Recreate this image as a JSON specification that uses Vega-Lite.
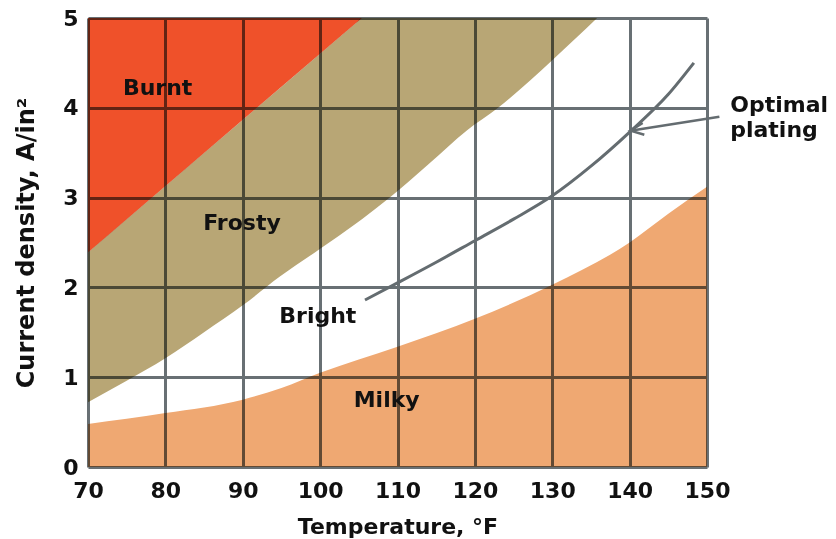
{
  "$schema": "https://vega.github.io/schema/vega-lite/v6.json",
  "width": 619,
  "height": 449,
  "autosize": {"type": "none"},
  "padding": {"left": 88, "top": 18, "right": 129, "bottom": 72},
  "background": "white",
  "datasets": {
    "burnt": [
      {"temp": 70, "density": 2.39},
      {"temp": 105.4, "density": 5}
    ],
    "frosty": [
      {"temp": 70, "lower": 0.72, "upper": 2.39},
      {"temp": 75, "lower": 0.96, "upper": 2.759},
      {"temp": 80, "lower": 1.21, "upper": 3.127},
      {"temp": 85, "lower": 1.5, "upper": 3.496},
      {"temp": 90, "lower": 1.8, "upper": 3.865},
      {"temp": 94.8, "lower": 2.12, "upper": 4.218},
      {"temp": 100, "lower": 2.43, "upper": 4.602},
      {"temp": 104.6, "lower": 2.71, "upper": 4.941},
      {"temp": 105.4, "lower": 2.76, "upper": 5},
      {"temp": 109, "lower": 3.0, "upper": 5},
      {"temp": 114, "lower": 3.37, "upper": 5},
      {"temp": 119, "lower": 3.75, "upper": 5},
      {"temp": 123, "lower": 4.0, "upper": 5},
      {"temp": 130, "lower": 4.53, "upper": 5},
      {"temp": 135.8, "lower": 5.0, "upper": 5}
    ],
    "milky": [
      {"temp": 70, "density": 0.48},
      {"temp": 80, "density": 0.6},
      {"temp": 90, "density": 0.75},
      {"temp": 95, "density": 0.88},
      {"temp": 100, "density": 1.05},
      {"temp": 110, "density": 1.34},
      {"temp": 120, "density": 1.65},
      {"temp": 130, "density": 2.03},
      {"temp": 140, "density": 2.5},
      {"temp": 145, "density": 2.82},
      {"temp": 150, "density": 3.12}
    ],
    "optimal": [
      {"temp": 105.8, "density": 1.86},
      {"temp": 110, "density": 2.05},
      {"temp": 115, "density": 2.28},
      {"temp": 120, "density": 2.52},
      {"temp": 125, "density": 2.76},
      {"temp": 130, "density": 3.02},
      {"temp": 135, "density": 3.35},
      {"temp": 140, "density": 3.73},
      {"temp": 145, "density": 4.15},
      {"temp": 148.3, "density": 4.5}
    ],
    "arrow": [
      {"temp": 151.6, "density": 3.9},
      {"temp": 140.1, "density": 3.745}
    ],
    "arrowhead": [
      {"temp": 140.1, "density": 3.745}
    ],
    "labels": [
      {"label": "Burnt", "temp": 79.0, "density": 4.22},
      {"label": "Frosty", "temp": 89.9, "density": 2.72},
      {"label": "Bright", "temp": 99.7, "density": 1.68},
      {"label": "Milky", "temp": 108.6, "density": 0.75}
    ],
    "callout": [
      {"label": "Optimal", "temp": 153.0, "density": 4.03},
      {"label": "plating", "temp": 153.0, "density": 3.75}
    ]
  },
  "encoding": {
    "x": {
      "field": "temp",
      "type": "quantitative",
      "scale": {"domain": [70, 150], "nice": false, "zero": false},
      "axis": {
        "title": "Temperature, °F",
        "values": [70, 80, 90, 100, 110, 120, 130, 140, 150],
        "labelFlush": false,
        "labelOverlap": false,
        "labelPadding": 13,
        "titlePadding": 15
      }
    },
    "y": {
      "field": "density",
      "type": "quantitative",
      "scale": {"domain": [0, 5], "nice": false},
      "axis": {
        "title": "Current density, A/in²",
        "values": [0, 1, 2, 3, 4, 5],
        "labelFlush": false,
        "labelOverlap": false,
        "labelPadding": 10,
        "titlePadding": 24,
        "titleFontSize": 24
      }
    }
  },
  "layer": [
    {
      "data": {"name": "frosty"},
      "mark": {"type": "area", "color": "#B8A675", "interpolate": "monotone", "blend": "multiply"},
      "encoding": {
        "y": {"field": "lower", "type": "quantitative"},
        "y2": {"field": "upper"}
      }
    },
    {
      "data": {"name": "burnt"},
      "mark": {"type": "area", "color": "#EF512A", "interpolate": "linear", "blend": "multiply"},
      "encoding": {
        "y2": {"datum": 5}
      }
    },
    {
      "data": {"name": "milky"},
      "mark": {"type": "area", "color": "#EFA872", "interpolate": "monotone", "blend": "multiply"},
      "encoding": {
        "y2": {"datum": 0}
      }
    },
    {
      "data": {"name": "optimal"},
      "mark": {"type": "line", "color": "#646C70", "strokeWidth": 3, "interpolate": "monotone", "strokeCap": "butt"},
      "encoding": {}
    },
    {
      "data": {"name": "arrow"},
      "mark": {"type": "line", "color": "#646C70", "strokeWidth": 2.5, "clip": false},
      "encoding": {}
    },
    {
      "data": {"name": "arrowhead"},
      "mark": {"type": "point", "shape": "M 1 -0.45 L 0 0 L 1 0.45", "size": 700, "filled": false, "color": "#646C70", "strokeWidth": 2.5, "opacity": 1, "angle": 352},
      "encoding": {}
    },
    {
      "data": {"name": "labels"},
      "mark": {"type": "text", "font": "DejaVu Sans", "fontWeight": "bold", "fontSize": 22, "color": "#111111", "align": "center", "baseline": "middle"},
      "encoding": {
        "text": {"field": "label"}
      }
    },
    {
      "data": {"name": "callout"},
      "mark": {"type": "text", "font": "DejaVu Sans", "fontWeight": "bold", "fontSize": 22, "color": "#111111", "align": "left", "baseline": "middle", "clip": false},
      "encoding": {
        "text": {"field": "label"}
      }
    }
  ],
  "config": {
    "view": {"stroke": null},
    "axis": {
      "grid": true,
      "gridColor": "#687074",
      "gridWidth": 3,
      "gridOpacity": 1,
      "domain": false,
      "ticks": false,
      "labelFont": "DejaVu Sans",
      "labelFontWeight": "bold",
      "labelFontSize": 22,
      "labelColor": "#111111",
      "titleFont": "DejaVu Sans",
      "titleFontWeight": "bold",
      "titleFontSize": 22,
      "titleColor": "#111111"
    }
  }
}
